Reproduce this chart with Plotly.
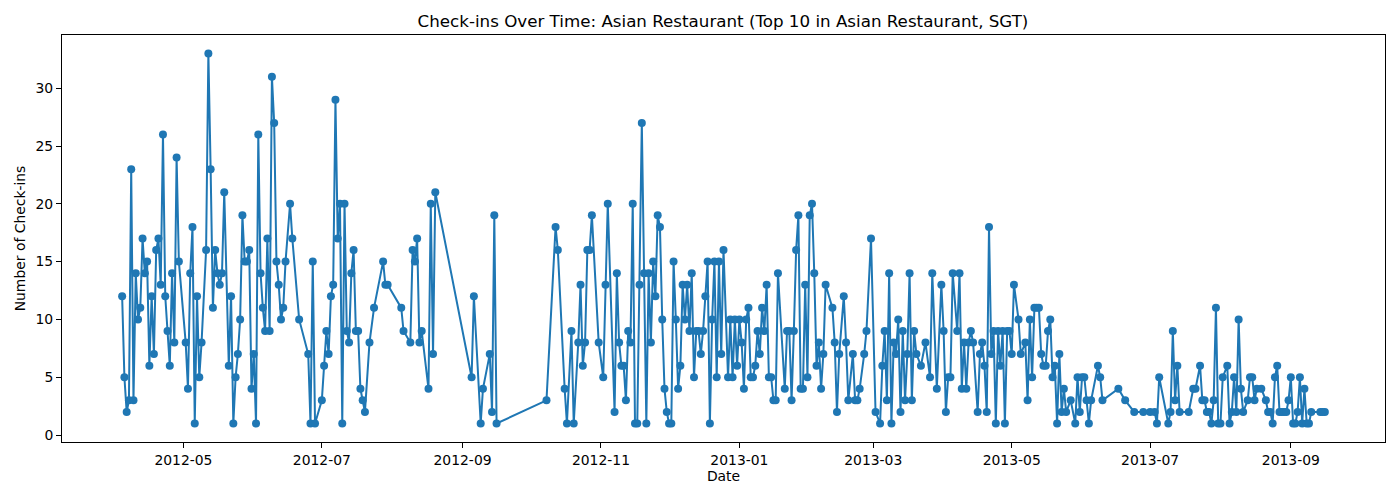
import pandas as pd
import plotly.graph_objects as go

# Daily check-ins, day offsets counted from 2012-05-01 (gaps = days with no check-ins)
day_offsets = [
    -27, -26, -25, -24, -23, -22, -21, -20, -19, -18, -17, -16, -15, -14, -13, -12, -11, -10, -9, -8,
    -7, -6, -5, -4, -3, -2, 1, 2, 3, 4, 5, 6, 7, 8, 10, 11, 12, 13, 14, 15,
    16, 17, 18, 20, 21, 22, 23, 24, 25, 26, 27, 28, 29, 30, 31, 32, 33, 34, 35, 36,
    37, 38, 39, 40, 41, 42, 43, 44, 45, 47, 48, 51, 55, 56, 57, 58, 61, 62, 63, 64,
    65, 66, 67, 68, 69, 70, 71, 72, 73, 74, 75, 76, 77, 78, 79, 80, 82, 84, 88, 89,
    90, 96, 97, 100, 101, 102, 103, 104, 105, 108, 109, 110, 111, 127, 128, 131, 132, 135, 136, 137,
    138, 160, 164, 165, 168, 169, 171, 172, 174, 175, 176, 177, 178, 179, 180, 183, 185, 186, 187, 190,
    191, 192, 193, 194, 195, 196, 197, 198, 199, 200, 201, 202, 203, 204, 205, 206, 207, 208, 209, 210,
    211, 212, 213, 214, 215, 216, 217, 218, 219, 220, 221, 222, 223, 224, 225, 226, 227, 228, 229, 230,
    231, 232, 233, 234, 235, 236, 237, 238, 240, 241, 242, 243, 244, 245, 246, 247, 248, 249, 250, 251,
    252, 253, 254, 255, 256, 257, 258, 259, 260, 261, 262, 265, 266, 267, 268, 269, 270, 271, 272, 273,
    274, 275, 276, 277, 278, 279, 280, 281, 282, 283, 286, 287, 288, 289, 291, 292, 293, 295, 296, 297,
    298, 300, 301, 303, 305, 307, 308, 309, 310, 311, 312, 313, 314, 315, 316, 317, 318, 319, 320, 321,
    322, 323, 325, 327, 329, 330, 332, 334, 335, 336, 337, 338, 339, 341, 342, 343, 344, 345, 346, 347,
    348, 350, 351, 352, 353, 354, 355, 356, 357, 358, 359, 360, 361, 362, 363, 364, 365, 366, 368, 369,
    371, 372, 373, 374, 375, 376, 377, 378, 379, 380, 381, 382, 383, 384, 385, 386, 387, 388, 389, 391,
    393, 394, 395, 396, 397, 398, 399, 400, 403, 404, 405, 412, 415, 419, 423, 426, 428, 429, 430, 434,
    435, 436, 437, 438, 439, 443, 445, 446, 448, 449, 450, 451, 452, 453, 454, 455, 456, 457, 458, 460,
    461, 462, 463, 464, 465, 466, 467, 469, 470, 471, 472, 473, 475, 477, 478, 479, 480, 481, 482, 483,
    484, 485, 486, 487, 488, 489, 490, 491, 492, 493, 494, 495, 496, 497, 501, 502, 503,
]

checkins = [
    12, 5, 2, 3, 23, 3, 14, 10, 11, 17, 14, 15, 6, 12, 7, 16, 17, 13, 26, 12,
    9, 6, 14, 8, 24, 15, 8, 4, 14, 18, 1, 12, 5, 8, 16, 33, 23, 11, 16, 14,
    13, 14, 21, 6, 12, 1, 5, 7, 10, 19, 15, 15, 16, 4, 7, 1, 26, 14, 11, 9,
    17, 9, 31, 27, 15, 13, 10, 11, 15, 20, 17, 10, 7, 1, 15, 1, 3, 6, 9, 7,
    12, 13, 29, 17, 20, 1, 20, 9, 8, 14, 16, 9, 9, 4, 3, 2, 8, 11, 15, 13,
    13, 11, 9, 8, 16, 15, 17, 8, 9, 4, 20, 7, 21, 5, 12, 1, 4, 7, 2, 19,
    1, 3, 18, 16, 4, 1, 9, 1, 8, 13, 6, 8, 16, 16, 19, 8, 5, 13, 20, 2,
    14, 8, 6, 6, 3, 9, 8, 20, 1, 1, 13, 27, 14, 1, 14, 8, 15, 12, 19, 18,
    10, 4, 2, 1, 1, 15, 10, 4, 6, 13, 10, 13, 9, 14, 5, 9, 9, 7, 9, 12,
    15, 1, 10, 15, 5, 15, 7, 16, 5, 10, 5, 10, 6, 10, 8, 4, 10, 11, 5, 5,
    6, 9, 7, 11, 9, 13, 5, 5, 3, 3, 14, 4, 9, 9, 3, 9, 16, 19, 4, 4,
    13, 5, 19, 20, 14, 6, 8, 4, 7, 13, 11, 8, 2, 7, 12, 8, 3, 7, 3, 3,
    4, 7, 9, 17, 2, 1, 6, 9, 3, 14, 1, 8, 7, 10, 2, 9, 3, 7, 14, 3,
    9, 7, 6, 8, 5, 14, 4, 13, 9, 2, 5, 5, 14, 9, 14, 4, 8, 4, 8, 9,
    8, 2, 7, 8, 6, 2, 18, 7, 9, 1, 9, 6, 9, 1, 9, 9, 7, 13, 10, 7,
    8, 3, 10, 5, 11, 11, 11, 7, 6, 6, 9, 10, 5, 6, 1, 7, 2, 4, 2, 3,
    1, 5, 2, 5, 5, 3, 1, 3, 6, 5, 3, 4, 3, 2, 2, 2, 2, 1, 5, 1,
    2, 9, 3, 6, 2, 2, 4, 4, 6, 3, 3, 2, 2, 1, 3, 11, 1, 1, 5, 6,
    1, 2, 5, 2, 10, 4, 2, 3, 5, 5, 3, 4, 4, 3, 2, 2, 1, 5, 6, 2,
    2, 2, 2, 3, 5, 1, 1, 2, 5, 1, 4, 1, 1, 2, 2, 2, 2,
]

dates = pd.Timestamp("2012-05-01") + pd.to_timedelta(day_offsets, unit="D")

# matplotlib-style 5% padding around the data
x_pad = (dates.max() - dates.min()) * 0.05
y_pad = (max(checkins) - min(checkins)) * 0.05

fig = go.Figure()

fig.add_trace(go.Scatter(
    x=dates, y=checkins, mode='lines+markers', name='Check-ins',
    line=dict(color='#1f77b4', width=2),
    marker=dict(color='#1f77b4', size=8)
))

axis_style = dict(
    showline=True, linecolor='black', linewidth=1, mirror=True,
    ticks='outside', ticklen=5, tickwidth=1, tickcolor='black',
    showgrid=False, zeroline=False,
    tickfont=dict(family='DejaVu Sans', size=13.9, color='black'),
)

# page body has an 8px margin, so the figure is sized to fit inside the window
fig.update_layout(
    width=1384, height=484,
    title=dict(
        text='Check-ins Over Time: Asian Restaurant (Top 10 in Asian Restaurant, SGT)',
        x=715 / 1384, xanchor='center', y=1 - 13 / 484, yanchor='middle',
        font=dict(family='DejaVu Sans', size=16.7, color='black')
    ),
    font=dict(family='DejaVu Sans', color='black'),
    plot_bgcolor='white', paper_bgcolor='white',
    margin=dict(l=54, r=7, t=27, b=50),
    showlegend=False,
)

fig.update_xaxes(
    axis_style,
    type='date', tickformat='%Y-%m', dtick='M2', tick0='2012-05-01',
    range=[dates.min() - x_pad, dates.max() + x_pad],
    title=dict(text='Date', font=dict(family='DejaVu Sans', size=13.9), standoff=4),
)
fig.update_yaxes(
    axis_style,
    tickvals=[0, 5, 10, 15, 20, 25, 30],
    range=[min(checkins) - y_pad, max(checkins) + y_pad],
    title=dict(text='Number of Check-ins', font=dict(family='DejaVu Sans', size=13.9), standoff=6),
)

fig.write_html("out.html")
